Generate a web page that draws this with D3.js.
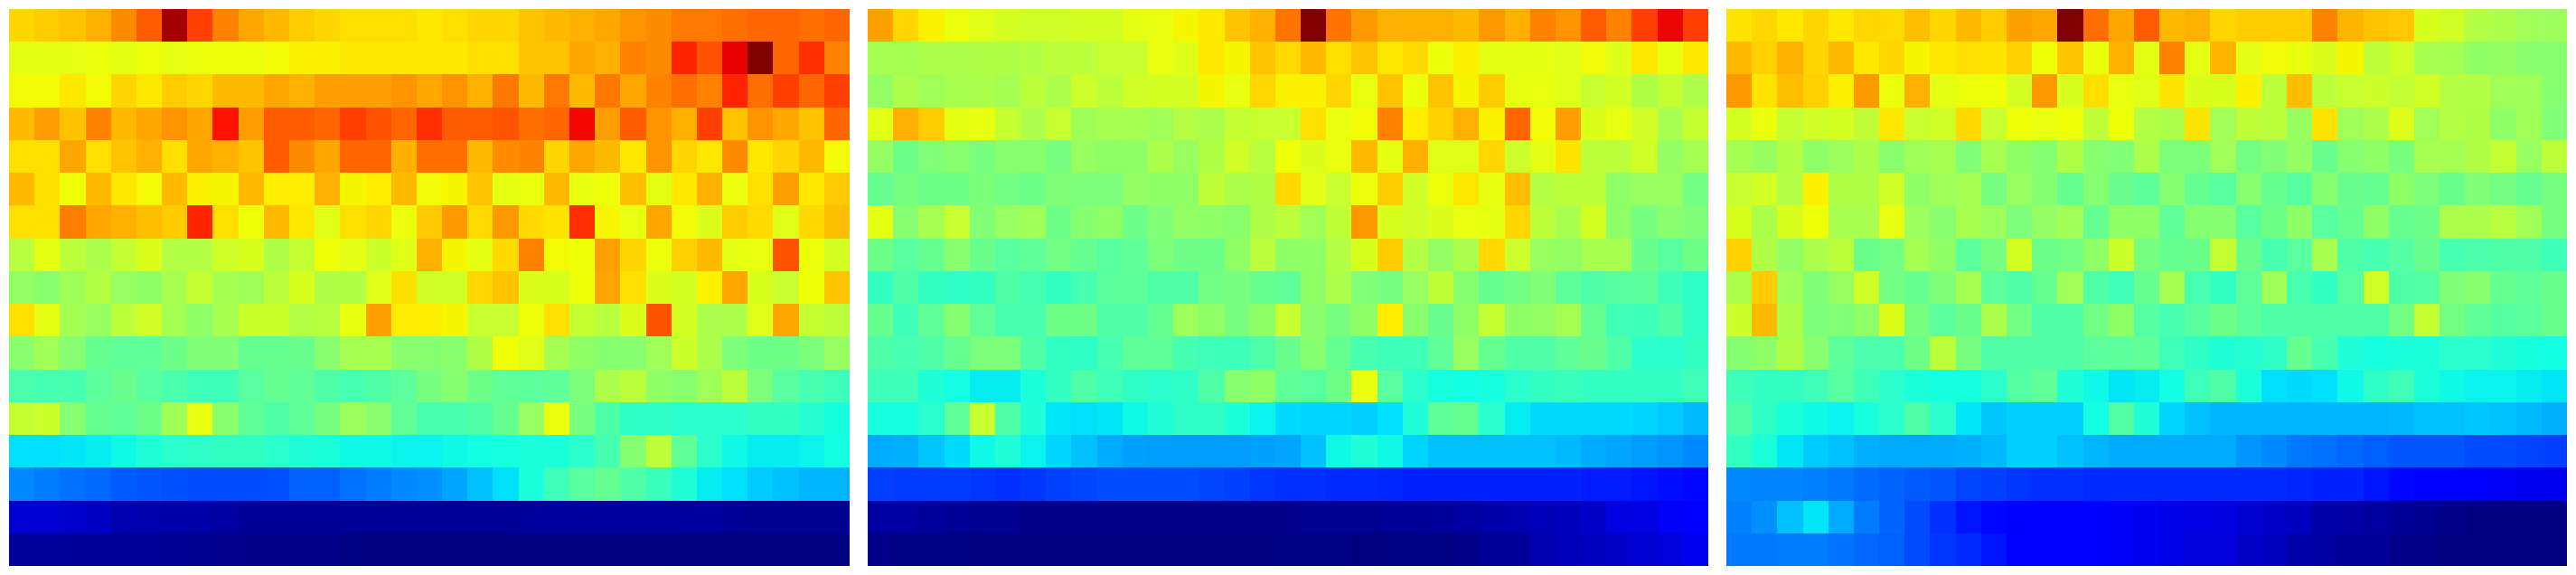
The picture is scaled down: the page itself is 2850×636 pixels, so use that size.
<!DOCTYPE html>
<html>
<head>
<meta charset="utf-8">
<script src="https://cdn.jsdelivr.net/npm/d3@7"></script>
<style>html,body{margin:0;padding:0;background:#fff;overflow:hidden}svg{display:block}</style>
</head>
<body>
<svg id="chart" width="2850" height="636"></svg>
<script>
const panelA = [
[68,69,70,72,76,81,97,84,77,73,71,69,68,67,67,67,66,67,68,68,70,71,72,73,75,76,78,78,79,80,80,79,80],
[62,62,62,63,62,63,62,63,63,63,64,65,65,66,66,66,66,66,67,67,70,70,73,72,77,76,87,82,91,100,80,86,77],
[64,64,66,64,68,66,69,68,71,71,73,72,74,74,74,75,73,75,72,78,71,78,71,78,73,77,79,77,87,79,84,80,84],
[71,74,70,77,71,73,75,73,89,74,81,81,80,84,82,80,86,81,81,82,79,80,90,74,81,75,72,84,70,75,73,70,80],
[67,67,73,67,70,72,67,73,72,70,81,76,73,80,80,72,79,79,71,76,77,68,73,71,66,75,68,66,76,66,68,71,64],
[71,67,63.5,71,66,64,71,65,64.5,71,65.5,65.5,72,64.5,65.5,71,64,64.5,70,62,63,71,62.5,63.5,70.5,62,66,72,63,67,74,66,69.5],
[67,67,77.5,73,72,70.5,69,87,67,63.5,71,66,61,67,68,63,69.5,74.5,67.5,74.5,67.5,66.5,86,64.5,62.5,73,64,60.5,69,67.5,61,67.5,70.5],
[56,62,56.5,54.5,57.5,60.5,55.5,55.5,59,60,55,57.5,63.5,62,58.5,61,72,64.5,62,67.5,77,64,63.5,73.5,68,63,68.5,71,62,62.5,82,63,59.5],
[51.5,50.5,53,55.5,52,51,54,57.5,53.5,53,56.5,60,55,55,61,67,59,59,68,70,60.5,60,63.5,73,67,60.5,59.5,65,73,60,58,63.5,70],
[67,62,53.5,52,56.5,59,53.5,51,54,58.5,58.5,55.5,56,62.5,73.5,65.5,65.5,64.5,58,58,63.5,67,57.5,56,60.5,82,59.5,54.5,54.5,61,73,57.5,56.5],
[50.5,53,50,46.5,46,46,47.5,49.5,49.5,46.5,46.5,47,50.5,53.5,54,50.5,50,50.5,55,63.5,61,53.5,51,50,50,53,58.5,54.5,49,47.5,47.5,49,52],
[43.5,43,43,45.5,47,45,43.5,42,42,45,46.5,46,44,43,44,45.5,48.5,50,47.5,46,45.5,46,49,54.5,56.5,51,50.5,53,56.5,49,45,43,42],
[57.5,58.5,50,46.5,46,47.5,53,62.5,50.5,46,44,46,48.5,52.5,50.5,46,43,43,44,46.5,52,63,48.5,44,40.5,40.5,40,40,40,41,41,39.5,38],
[35,35,35.5,36,37,39,40,40.5,41,41,40,39,38.5,37,37,36.5,36.5,37,37.5,38,38.5,38.5,40,43,50,56.5,46,40,37,36,36,36.5,37.5],
[26,24.5,23,22,20.5,20,19.5,19,19,19,19.5,21,21,23,24.5,26,27,29.5,32,35,38.5,42,45,46.5,44,41.5,39,36,35,33,32,31,31],
[7,7,6.5,6,4.2,3.8,3.5,3.5,2.8,2.2,2.2,2.1,2.1,2.1,2,2,2,2,2,2,2.5,2.5,2.5,2.5,2.5,2.5,2.5,2.5,2,1.5,1.5,1.5,1.5],
[2.4,2.4,2.2,2.2,2,2,1.8,1.5,1.2,1,1,0.8,0.7,0.5,0.3,0.3,0.3,0.3,0.3,0.3,0.3,0.3,0.3,0.3,0.3,0.3,0,0,0,0,0,0,0]
];
const panelB = [
[73.5,68,65,63,61,59.5,59,59,59.5,59.5,62,62.5,64.5,66,70,72,78.5,100,78.5,74.5,72,72,72,71,74.5,72,77,75,81,77,84,90.5,84],
[54,53.5,54.5,54.5,55,55,55.5,56.5,56.5,58,58,62.5,61,66,64.5,70,67.5,71,67,70,66,67.5,63,65,62,62,62,61,64,61,66,62.5,66],
[51.5,54.5,53,54,54.5,53.5,56.5,54.5,58.5,56.5,59,59.5,59.5,64.5,62.5,68,65,65,68,62.5,70,63,70,64.5,69,62.5,62.5,61,58,59.5,55,57.5,54.5],
[61.5,72,69,62,62.5,57.5,54.5,58,53,54,53.5,53,55.5,54.5,57.5,58,58,67,62.5,64,77,65.5,68.5,72,65,80,64,74,60.5,62.5,59,54,57.5],
[51.5,47.5,49.5,50.5,48.5,50.5,50.5,48.5,52,51,51,54.5,52,55,59,56,63.5,60.5,62.5,71,62,72,61,61,68,58.5,62,66.5,56.5,56.5,59,51.5,53.5],
[46.5,48.5,47.5,47.5,49,48,47.5,49.5,49,49,51.5,51,51,57,54.5,55,67.5,61.5,58,63,69,59,63,66,62.5,70.5,55.5,56.5,56.5,51,52,52,48],
[62,50,54,58,49.5,52,53,47.5,50,51,47.5,49.5,51.5,51,50.5,55,56.5,53,57,74.5,60,59,60.5,62.5,62,68,56.5,54,59.5,51,48.5,50.5,49.5],
[47.5,45,46.5,50.5,47,45,46,48,46.5,45,46,49,47.5,47.5,51,56.5,51,51,55.5,60,69,55.5,51.5,54.5,67.5,58.5,52,51.5,54,54,47,45,47.5],
[41,44,41,40.5,41,44,43,41,43,45.5,45.5,44,44,48,48.5,46.5,46,51,54.5,49.5,48.5,52,57,50,46.5,48,49.5,45.5,44,45,45.5,42,40.5],
[46.5,42,46,50,46,43,43,47.5,47.5,44,44,46.5,52.5,51,48.5,51,58,50.5,48.5,51,65.5,50.5,47,51,57.5,51,51.5,53.5,46.5,42,42,44,40.5],
[44,43,44,46.5,49,49,44,41,40.5,43,46,46,43,42,42,44,47,50,46.5,43,42,42,46,52,46.5,44,44,46,47,44,40,40,41],
[42,42,39,37.5,36,36,38.5,41,44,42,40.5,40,40.5,44,50,51,46,45,47.5,62.5,45,40,38,37.5,38,40,41,41.5,41,41,41,41,42],
[38,38,40,46,58,44,39,35.5,35,35.5,37,39,40.5,40.5,38.5,36.5,34.5,34,34,33.5,35,39,46,46.5,40,36,34.5,34.5,34.5,34.5,34,33,31.5],
[30,30.5,32.5,34.5,37,39,36.5,34,32,30,29,28.5,28.5,28.5,28.5,29,29.5,32,37,39,37,34,32,32,32,32,32,31.5,30,29.5,28.5,27.5,26],
[18,17.5,17.5,17.5,17,16.5,17,18,18.5,19,19,19,19,18.5,18,17,16.5,16.5,16,16,15.5,15,15,15,15,15,15,15,14.5,14.5,14,13.5,13],
[3,3,2.5,2,1.5,1.5,1,1,1,1,1,1,1,1,1,1,1,1.5,1.5,1.5,2,2,2.3,2.8,3.5,4.2,4.9,5.2,6.3,8.3,8.5,10.5,11],
[1,0.5,0.5,0.5,0,0,0,0,0,0,0,0,0,0,0,0,0.5,0.5,0.5,0,0.5,0.5,0.5,0.7,2,2.2,4.2,4.9,5.6,6.3,7,7.6,9.7]
];
const panelC = [
[66.5,68,66,68,66,68,67.5,70.5,68,71,69,73.5,73,100,79,73,81,71,72,68,69,69,69,77,71.5,70,69.5,60,59,55.5,54.5,53,52.5],
[71,68.5,72,68,71,66,68,64.5,66,67,66.5,68.5,63.5,70,63,72,62,77,62,71.5,61.5,64,62.5,60.5,64.5,56.5,59,54,53.5,51,51.5,50.5,50],
[74.5,66.5,70.5,68.5,65,74.5,63,72,62,63,63.5,59.5,74.5,60,67,62.5,61,66.5,60.5,60,65,56.5,70.5,56.5,58,58.5,57.5,59,55.5,55.5,53,53,50],
[59.5,63,57.5,59,59.5,57,66,58,59,67.5,58,63.5,62.5,63.5,57,63.5,55.5,54.5,66.5,53,57,56.5,52,66.5,53,54.5,61,53,55.5,55,51,53,49.5],
[53.5,52,55.5,51,52.5,54.5,50.5,53,53.5,49.5,54,51,50,55,50,49.5,54.5,49,49,53,48,49.5,51.5,47,50,51,48.5,54,53.5,55,57.5,52,56.5],
[58,59.5,55.5,65,55,55,59,51,53,53.5,48.5,52,50,46.5,50,47,45.5,50,46.5,45,50,46.5,45,50,47,46.5,51,49,47,49.5,48,46.5,48.5],
[60,54.5,60,63.5,54,54,62.5,52.5,50.5,54,52.5,49,51.5,53,46.5,51,51,46,50,50,45,47.5,51,45,46.5,51,46.5,47.5,54.5,54.5,56,53,48.5],
[68.5,55,51.5,54.5,56.5,47,48,53.5,51,45.5,48.5,59.5,47.5,48,51,58.5,48.5,46.5,47,57.5,47,43,45,54,44,43,44.5,47,43,43.5,44,44,42],
[54.5,69,53,49.5,52,59,48,46.5,49.5,53.5,45.5,44,46.5,53,44,42,46.5,53.5,43,41,45.5,53,43,41,45,59,44,44.5,49.5,50.5,46.5,46,47],
[58.5,71,54.5,49,49.5,51,60.5,48.5,45.5,47,54.5,48,44,44,48,51,44.5,43,45,47.5,45.5,44,44,44,44,44,48,57.5,48,46,44.5,45.5,47],
[50,51,55,50.5,45.5,43.5,43.5,47.5,56.5,48.5,44,44,44,44,45.5,45.5,46,42,40.5,39,39.5,40.5,46.5,43,39,38,38.5,38.5,40,40,39,38,37.5],
[42,41,41,42,45,42,40,38.5,38,38,40,44.5,46,39,37,35.5,36,37.5,42,44,38.5,35,34.5,35,37,40.5,42,38.5,37,36.5,36.5,36,35.5],
[44,40.5,38.5,37,36.5,38,40,44,40,35.5,32.5,33.5,33.5,33.5,37.5,44.5,39,34,32,31,31,31,31,31,31,31,31.5,32,32,32.5,32,31.5,30.5],
[41,38.5,35.5,33,32,30.5,30,30,30,30.5,31.5,33.5,33.5,32,31,30,30,30,30,30,27.5,26,24,23,22,21,20,20,20,19,19,18.5,18],
[26,25.5,25.5,25,24,22.5,21.5,20.5,20,18.5,18,17,16.5,16.5,16,16,16,16,16,16,16,16,15.5,15,15,14,13,12,11.5,11,10.5,10,9.5],
[25,27,32,35.5,30,24.5,21.5,19,16.5,14,13,11.5,11.5,11,11,10.5,10,9,8.5,8.3,7,6.3,5.6,3.5,3.2,2.8,2,1.4,0.7,0.3,0.1,0,0],
[24,24,24.5,24.5,23.5,22,21,19,17,16,14,11.5,11.5,11,11,10.5,10,9,8,7.6,6.3,5.6,3.5,2.8,2,2,0.7,0.7,0.3,0.1,0,0,0]
];

const panels = [panelA, panelB, panelC];
const panelLeft = [10, 960, 1910];
const panelWidth = 930;
const panelTop = 10;
const panelHeight = 616;

const readoutStops = [0,13,15,16,18,21,25,29,32,35,37,39,42,46,49.5,53,57,60,62.5,64,66,100];
const jetStops = [0,13,15.8,16.7,18.75,21.9,25,28.2,31.3,34.4,36.9,38.9,42.6,46.7,50.7,54.5,58.3,61.3,63.2,64.4,66.4,100];
const calibrate = d3.scaleLinear().domain(readoutStops).range(jetStops);

const red = d3.scaleLinear().domain([0,35,66,89,100]).range([0,0,255,255,127.5]).clamp(true);
const green = d3.scaleLinear().domain([0,12.5,37.5,64,91,100]).range([0,0,255,255,0,0]).clamp(true);
const blue = d3.scaleLinear().domain([0,11,34,65,100]).range([127.5,255,255,0,0]).clamp(true);
const jet = raw => { const v = calibrate(raw); return d3.rgb(red(v), green(v), blue(v)).formatHex(); };

const svg = d3.select("#chart");
panels.forEach((rows, p) => {
  const x = d3.scaleBand().domain(d3.range(rows[0].length)).range([panelLeft[p], panelLeft[p] + panelWidth]);
  const y = d3.scaleBand().domain(d3.range(rows.length)).range([panelTop, panelTop + panelHeight]);
  const g = svg.append("g").attr("class", "panel").attr("shape-rendering", "crispEdges");
  rows.forEach((row, r) => {
    g.selectAll(null).data(row).join("rect")
      .attr("x", (d, c) => x(c))
      .attr("y", y(r))
      .attr("width", x.bandwidth())
      .attr("height", y.bandwidth())
      .attr("fill", d => jet(d));
  });
});
</script>
</body>
</html>
